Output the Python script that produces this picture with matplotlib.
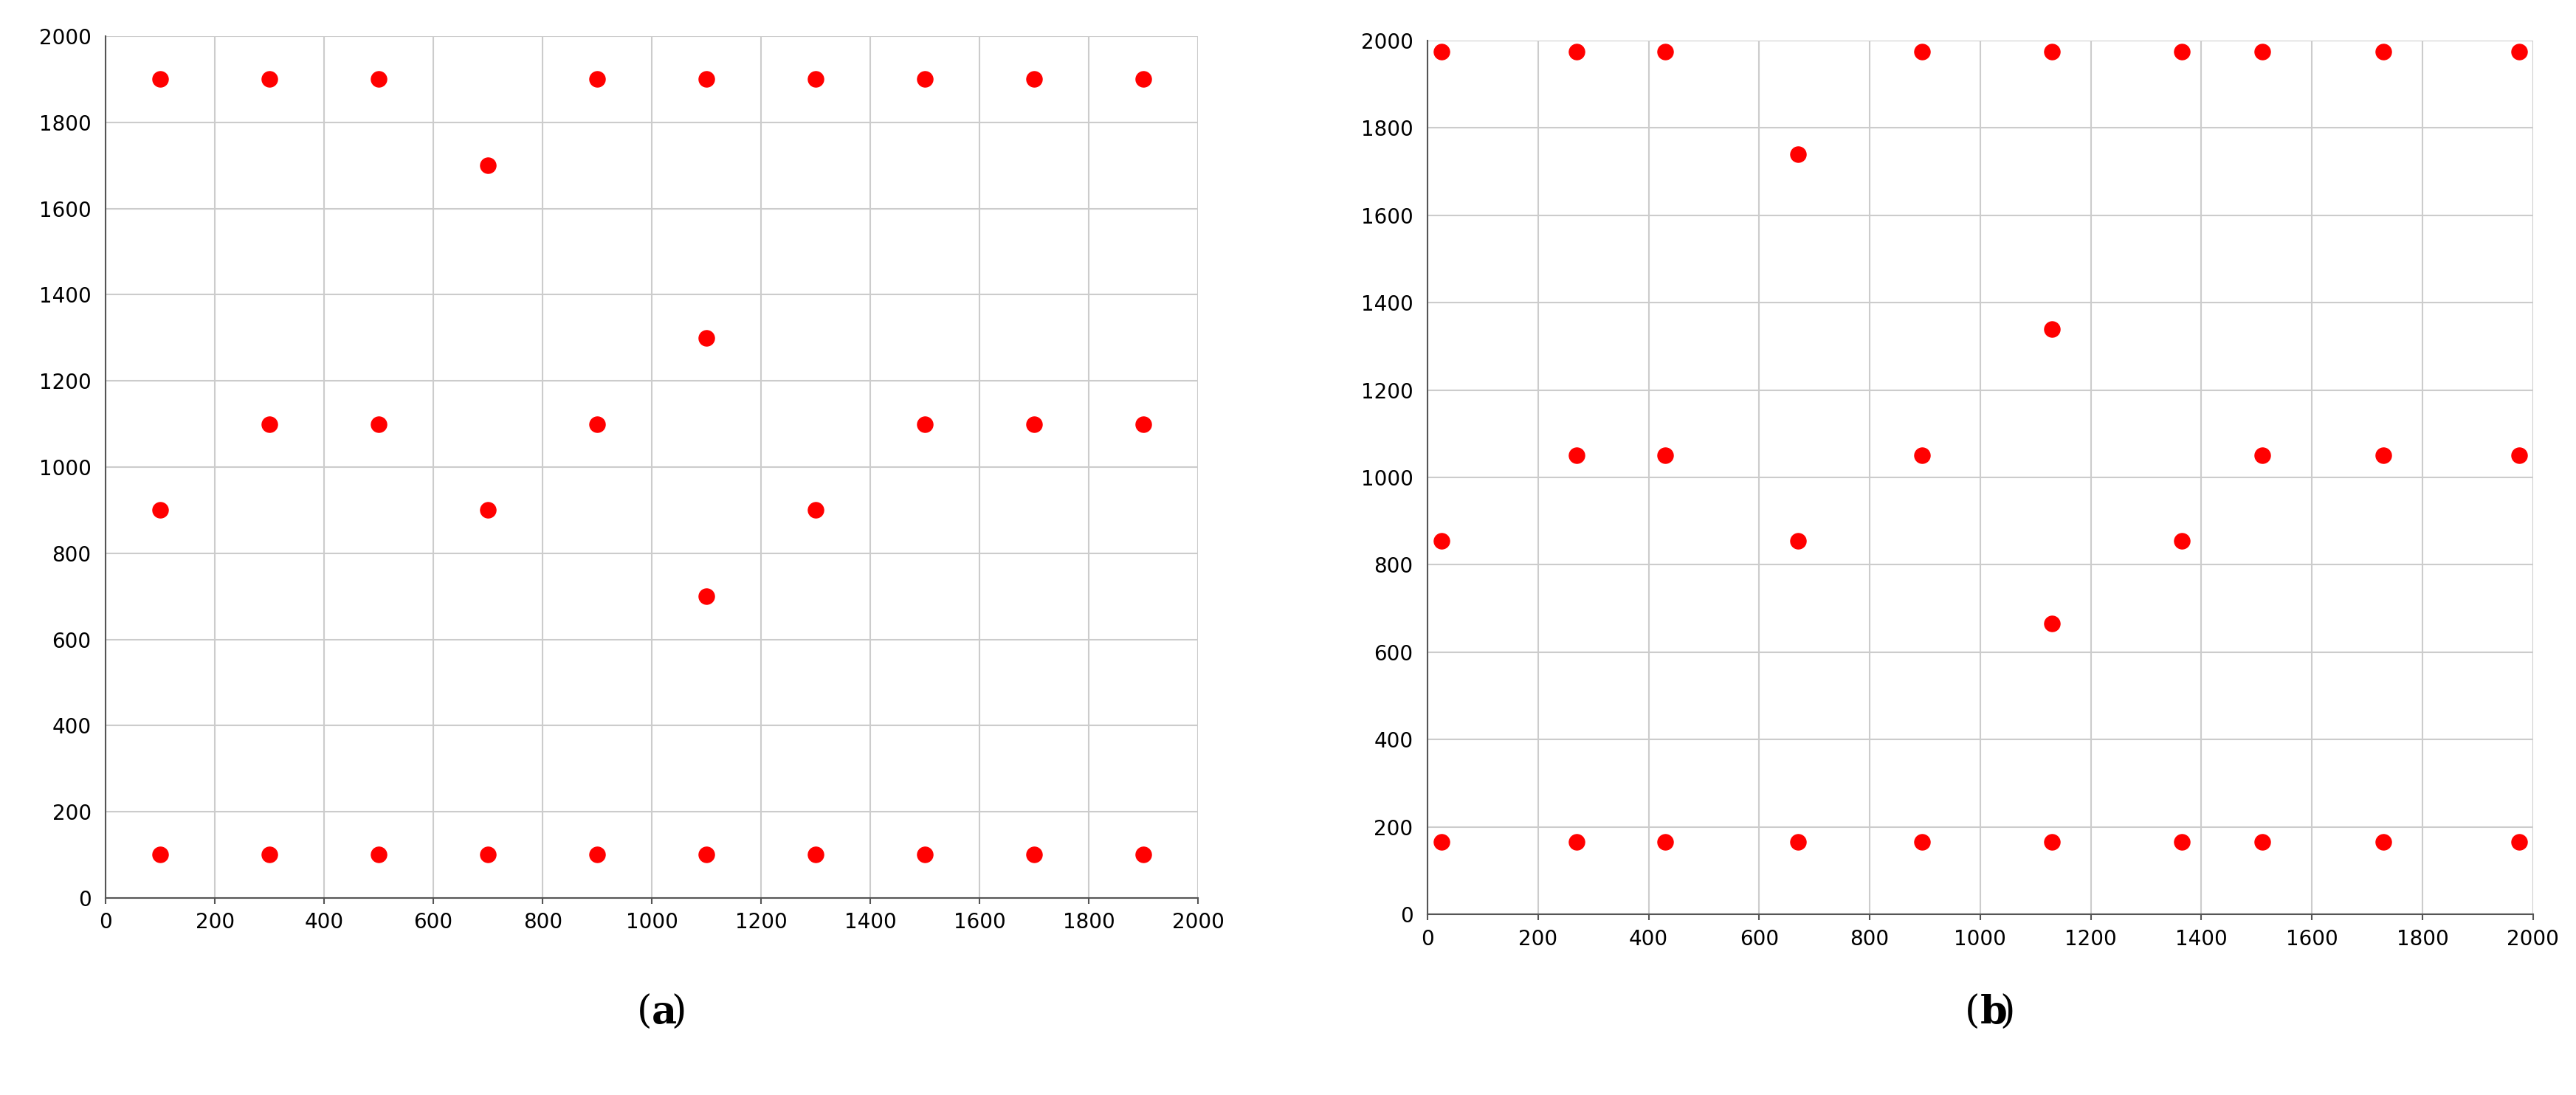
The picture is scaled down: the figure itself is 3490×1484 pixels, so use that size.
import matplotlib
matplotlib.use("Agg")
import matplotlib.pyplot as plt

ax_x = [100,300,500,700,900,1100,1300,1500,1700,1900]
a_pts = {
    1900: [100,300,500,900,1100,1300,1500,1700,1900],
    1700: [700],
    1300: [1100],
    1100: [300,500,900,1500,1700,1900],
    900: [100,700,1300],
    700: [1100],
    100: ax_x,
}
bx = [25,270,430,670,895,1130,1365,1510,1730,1975]
b_pts = {
    1975: [25,270,430,895,1130,1365,1510,1730,1975],
    1740: [670],
    1340: [1130],
    1050: [270,430,895,1510,1730,1975],
    855: [25,670,1365],
    665: [1130],
    165: bx,
}
ticks = list(range(0, 2001, 200))
labels = ["a", "b"]

fig = plt.figure(figsize=(34.91, 14.84), dpi=100)
axes = [fig.add_axes([0.041, 0.18, 0.424, 0.787]),
        fig.add_axes([0.554, 0.165, 0.429, 0.798])]
for ax, pts, lab in zip(axes, [a_pts, b_pts], labels):
    for y, xs in pts.items():
        ax.scatter(xs, [y]*len(xs), s=230, color="#ff0000", zorder=3)
    ax.set_xlim(0, 2000); ax.set_ylim(0, 2000)
    ax.set_xticks(ticks); ax.set_yticks(ticks)
    ax.grid(True, color="#cccccc", linewidth=1.5)
    for s in ["top", "right"]:
        ax.spines[s].set_visible(False)
    for s in ["left", "bottom"]:
        ax.spines[s].set_color("#555555"); ax.spines[s].set_linewidth(1.5)
    ax.tick_params(labelsize=20, length=6, width=1.5, color="#555555", pad=8)
    ax.tick_params(axis="y", length=0, pad=14)
    pos = ax.get_position()
    cx = (pos.x0 + pos.x1) / 2
    fig.text(cx, 0.075, "(", fontsize=38, ha="right", va="center", family="DejaVu Serif")
    fig.text(cx, 0.075, lab, fontsize=38, ha="left", va="center", family="DejaVu Serif", fontweight="bold")
    fig.text(cx + 0.0075, 0.075, ")", fontsize=38, ha="left", va="center", family="DejaVu Serif")
fig.savefig("out.png", dpi=100)
